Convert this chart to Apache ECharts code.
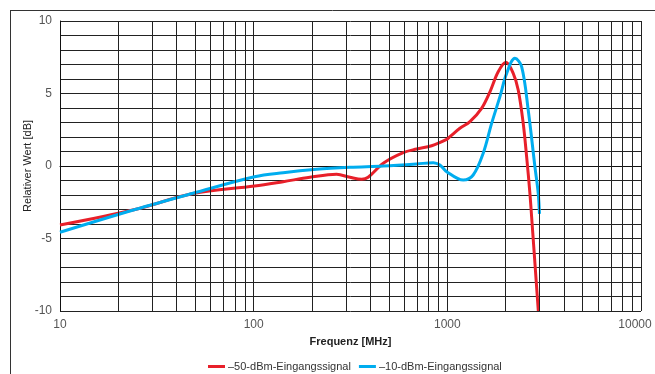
<!DOCTYPE html>
<html>
<head>
<meta charset="utf-8">
<script src="https://cdn.jsdelivr.net/npm/echarts@6/dist/echarts.min.js"></script>
<style>
html,body{margin:0;padding:0;background:#fff;}
#c{width:655px;height:374px;}
</style>
</head>
<body>
<div id="c"></div>
<script>
// ---- data ----
const redFreq = [10, 24.4, 48.6, 101, 142, 195, 268, 314, 361, 390, 467, 592, 694, 830, 992, 1031, 1161, 1308, 1503, 1660, 1831, 2007, 2189, 2323, 2465, 2567, 2669, 2724, 2950];
const redVal  = [-4.07, -3.0, -1.9, -1.38, -1.08, -0.78, -0.57, -0.78, -0.92, -0.78, 0.19, 0.92, 1.17, 1.40, 1.84, 2.02, 2.6, 3.06, 3.98, 5.12, 6.5, 7.15, 6.39, 5.24, 2.94, 0.64, -1.88, -3.5, -10];
const blueFreq = [10, 24.4, 48.6, 101, 142, 211, 314, 467, 694, 846, 916, 992, 1208, 1360, 1532, 1693, 1869, 2024, 2234, 2419, 2616, 2833, 2947, 2990];
const blueVal  = [-4.57, -3.0, -1.88, -0.74, -0.46, -0.23, -0.09, 0.0, 0.14, 0.23, 0.07, -0.39, -0.97, -0.62, 0.88, 2.94, 4.78, 6.39, 7.43, 6.85, 3.86, -0.05, -1.88, -3.3];
const seriesNames = ['\u201350-dBm-Eingangssignal', '\u201310-dBm-Eingangssignal'];
const minorGridFreqs = [20,30,40,50,60,70,80,90,200,300,400,500,600,700,800,900,2000,3000,4000,5000,6000,7000,8000,9000];
const yTickLabels = [-10, -5, 0, 5, 10];
const xTickLabels = [10, 100, 1000, 10000];

const FONT = '"Liberation Sans Narrow", "Liberation Sans", Arial, sans-serif';
const chart = echarts.init(document.getElementById('c'));
const pairs = (xs, ys) => xs.map((x, i) => [x, ys[i]]);

chart.setOption({
  animation: false,
  backgroundColor: '#fff',
  grid: {left: 60, right: 14, top: 21, bottom: 63, containLabel: false, outerBoundsMode: 'none'},
  graphic: [
    {type: 'line', shape: {x1: 10, y1: 10.5, x2: 655, y2: 10.5}, style: {stroke: '#333', lineWidth: 1}},
    {type: 'line', shape: {x1: 10.5, y1: 10, x2: 10.5, y2: 374}, style: {stroke: '#333', lineWidth: 1}}
  ],
  legend: {
    bottom: -3, left: 203,
    data: seriesNames,
    icon: 'rect', itemWidth: 17, itemHeight: 3, itemGap: 8,
    textStyle: {fontFamily: FONT, fontSize: 11, color: '#333', padding: [0,0,0,-2]}
  },
  xAxis: {
    type: 'log', logBase: 10, min: 10, max: 10000,
    name: 'Frequenz [MHz]', nameLocation: 'middle', nameGap: 25,
    nameTextStyle: {fontFamily: FONT, fontSize: 11, fontWeight: 'bold', color: '#222'},
    axisLine: {show: true, lineStyle: {color: '#111', width: 1}},
    axisTick: {show: false},
    axisLabel: {fontFamily: FONT, fontSize: 12, color: '#555', margin: 8,
      formatter: v => {
        const r = Math.round(v);
        if (xTickLabels.indexOf(r) < 0) return '';
        return r === xTickLabels[xTickLabels.length - 1] ? '{r|' + r + '}' : String(r);
      },
      rich: {r: {fontFamily: FONT, fontSize: 12, color: '#555', padding: [0, 12, 0, 0]}}
    },
    splitLine: {show: true, lineStyle: {color: '#222', width: 1}},
    minorTick: {show: false}, minorSplitLine: {show: false}
  },
  yAxis: {
    type: 'value', min: -10, max: 10, interval: 1,
    name: 'Relativer Wert [dB]', nameLocation: 'middle', nameGap: 27, nameMoveOverlap: false,
    nameTextStyle: {fontFamily: FONT, fontSize: 11, color: '#222'},
    axisLine: {show: true, lineStyle: {color: '#111', width: 1}},
    axisTick: {show: false},
    axisLabel: {fontFamily: FONT, fontSize: 12, color: '#555', margin: 8,
      formatter: v => yTickLabels.indexOf(v) >= 0 ? String(v) : ''},
    splitLine: {show: true, lineStyle: {color: '#222', width: 1}}
  },
  series: [
    {
      type: 'line', data: [], silent: true, z: 1,
      markLine: {
        silent: true, symbol: ['none', 'none'], label: {show: false},
        lineStyle: {color: '#222', width: 1, type: 'solid'},
        emphasis: {disabled: true},
        data: minorGridFreqs.map(f => ({xAxis: f}))
      }
    },
    {
      name: seriesNames[0], type: 'line', z: 3,
      data: pairs(redFreq, redVal),
      showSymbol: false, smooth: 0.35,
      lineStyle: {color: '#e8202a', width: 3},
      itemStyle: {color: '#e8202a'}
    },
    {
      name: seriesNames[1], type: 'line', z: 4,
      data: pairs(blueFreq, blueVal),
      showSymbol: false, smooth: 0.35,
      lineStyle: {color: '#00adef', width: 3},
      itemStyle: {color: '#00adef'}
    }
  ]
});
</script>
</body>
</html>
